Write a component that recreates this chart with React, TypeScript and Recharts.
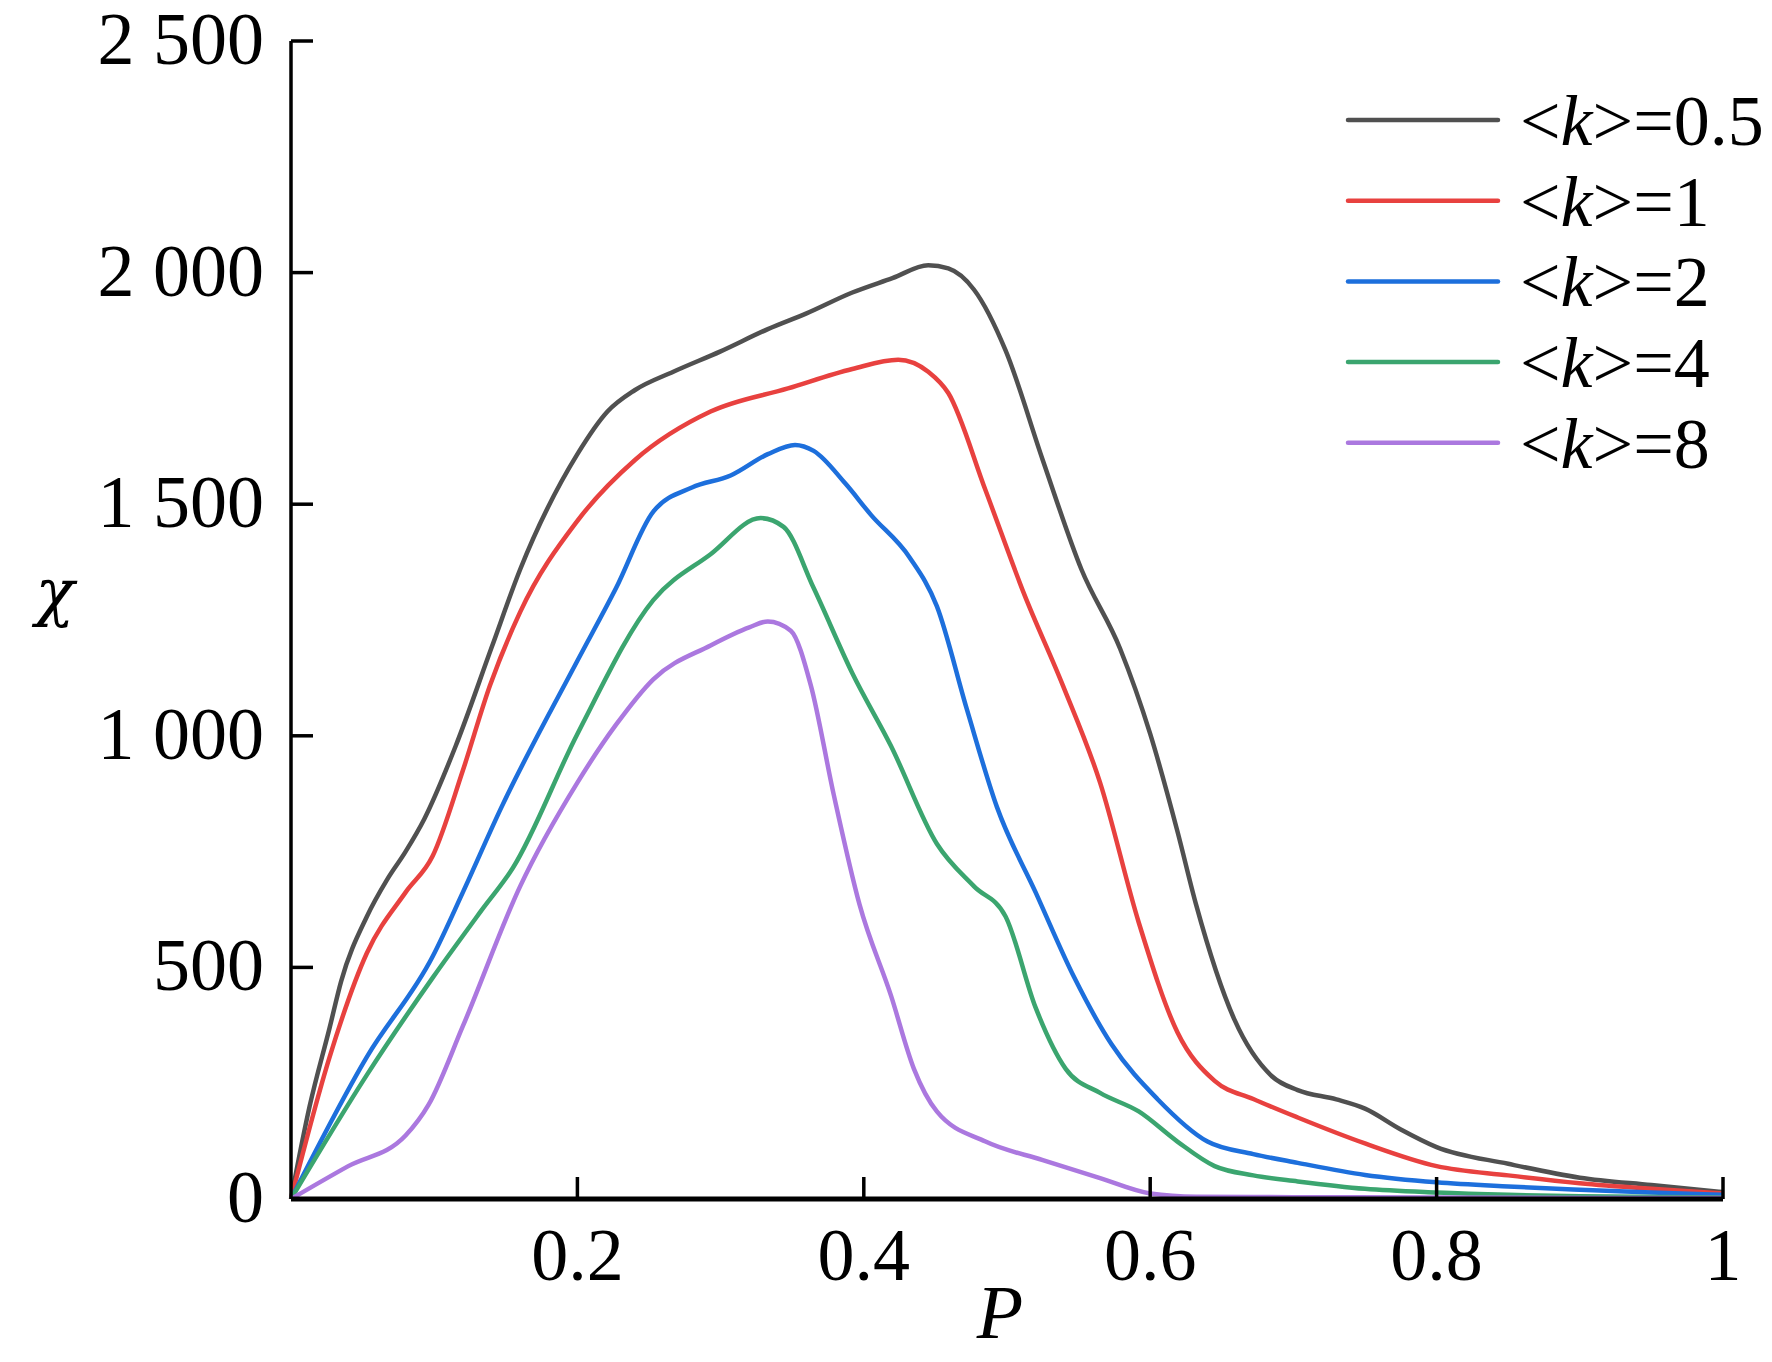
import React from 'react';
import { LineChart, Line, XAxis, YAxis, Legend } from 'recharts';

// ---- data ----
const pK05 = [0, 0.013, 0.027, 0.035, 0.053, 0.067, 0.08, 0.093, 0.115, 0.14, 0.16, 0.2, 0.221, 0.24, 0.267, 0.3, 0.333, 0.36, 0.392, 0.42, 0.445, 0.459, 0.477, 0.499, 0.525, 0.552, 0.579, 0.6, 0.619, 0.632, 0.659, 0.685, 0.703, 0.73, 0.75, 0.775, 0.8, 0.85, 0.9, 0.95, 1];
const vK05 = [0, 200, 370, 470, 610, 689, 750, 820, 978, 1190, 1359, 1608, 1700, 1746, 1786, 1830, 1878, 1912, 1957, 1988, 2016, 2009, 1963, 1832, 1595, 1359, 1188, 1004, 794, 636, 386, 265, 235, 215, 195, 150, 112, 76, 46, 30, 15];

const pK1 = [0, 0.027, 0.053, 0.08, 0.099, 0.12, 0.139, 0.16, 0.2, 0.24, 0.293, 0.347, 0.392, 0.424, 0.445, 0.459, 0.485, 0.512, 0.539, 0.565, 0.592, 0.619, 0.645, 0.672, 0.703, 0.75, 0.8, 0.85, 0.9, 0.95, 1];
const vK1 = [0, 307, 531, 662, 741, 925, 1109, 1267, 1464, 1595, 1700, 1750, 1792, 1812, 1786, 1740, 1530, 1306, 1109, 899, 597, 360, 255, 216, 176, 120, 71, 51, 34, 22, 12];

const pK2 = [0, 0.053, 0.099, 0.12, 0.147, 0.2, 0.227, 0.253, 0.28, 0.307, 0.333, 0.352, 0.365, 0.387, 0.405, 0.432, 0.451, 0.472, 0.493, 0.52, 0.547, 0.573, 0.605, 0.64, 0.672, 0.703, 0.75, 0.8, 0.85, 0.9, 0.95, 1];
const vK2 = [0, 307, 524, 662, 846, 1162, 1319, 1484, 1536, 1562, 1608, 1628, 1615, 1545, 1477, 1385, 1280, 1057, 846, 662, 478, 334, 216, 124, 97, 78, 52, 36, 27, 20, 14, 9];

const pK4 = [0, 0.053, 0.099, 0.133, 0.155, 0.2, 0.253, 0.293, 0.328, 0.344, 0.365, 0.392, 0.419, 0.451, 0.477, 0.499, 0.52, 0.541, 0.565, 0.592, 0.619, 0.645, 0.672, 0.703, 0.75, 0.8, 0.85, 0.9, 1];
const vK4 = [0, 268, 478, 623, 715, 1004, 1293, 1392, 1470, 1451, 1319, 1135, 978, 767, 675, 610, 413, 281, 229, 189, 124, 71, 51, 38, 22, 14, 9, 6, 3];

const pK8 = [0, 0.04, 0.08, 0.096, 0.12, 0.16, 0.2, 0.227, 0.253, 0.293, 0.32, 0.333, 0.349, 0.363, 0.379, 0.397, 0.419, 0.435, 0.451, 0.485, 0.525, 0.565, 0.6, 0.632, 0.7, 0.8, 1];
const vK8 = [0, 71, 137, 203, 373, 675, 899, 1024, 1122, 1195, 1234, 1247, 1227, 1109, 873, 636, 439, 281, 189, 124, 84, 45, 12, 5, 4, 3, 2];

const kLabels = ['0.5', '1', '2', '4', '8'];
const colors = ['#505050', '#e8413f', '#1d6fdc', '#3ba56f', '#ab78df'];

const yTicks = [0, 500, 1000, 1500, 2000, 2500];
const yTickLabels = ['0', '500', '1 000', '1 500', '2 000', '2 500'];
const xTicks = [0.2, 0.4, 0.6, 0.8, 1];
const xTickLabels = ['0.2', '0.4', '0.6', '0.8', '1'];

const FONT = '"Liberation Serif", "Times New Roman", Times, serif';
const GREEK_FONT = '"DejaVu Serif", "Liberation Serif", serif';

const rawSeries = [
  { p: pK05, v: vK05 },
  { p: pK1, v: vK1 },
  { p: pK2, v: vK2 },
  { p: pK4, v: vK4 },
  { p: pK8, v: vK8 },
];

const series = rawSeries.map((s, i) => ({
  name: `<k>=${kLabels[i]}`,
  color: colors[i],
  data: s.p.map((p, j) => ({ p, v: s.v[j] })),
}));

function YTick(props: any) {
  const { x, y, payload } = props;
  const idx = yTicks.indexOf(payload.value);
  return (
    <g>
      <line x1={x} x2={x + 22} y1={y} y2={y} stroke="#000" strokeWidth={3.5} />
      <text x={x - 27} y={y + 23} textAnchor="end" fontFamily={FONT} fontSize={74} fill="#000">
        {yTickLabels[idx]}
      </text>
    </g>
  );
}

function XTick(props: any) {
  const { x, y, payload } = props;
  const idx = xTicks.indexOf(payload.value);
  return (
    <g>
      <line x1={x} x2={x} y1={y} y2={y - 22} stroke="#000" strokeWidth={3.5} />
      <text x={x} y={y + 81} textAnchor="middle" fontFamily={FONT} fontSize={74} fill="#000">
        {xTickLabels[idx]}
      </text>
    </g>
  );
}

function LegendContent(props: any) {
  const payload = props.payload || [];
  return (
    <svg width={432} height={470} style={{ display: 'block', overflow: 'visible' }}>
      {payload.map((entry: any, i: number) => {
        const cy = 60 + i * 80.7;
        const val = String(entry.value).replace('<k>=', '');
        return (
          <g key={i}>
            <line x1={8} x2={158} y1={cy} y2={cy} stroke={entry.color} strokeWidth={4.5} strokeLinecap="round" />
            <text x={180} y={cy + 25} fontFamily={FONT} fontSize={72} fill="#000">
              <tspan>&lt;</tspan>
              <tspan fontStyle="italic">k</tspan>
              <tspan>&gt;={val}</tspan>
            </text>
          </g>
        );
      })}
    </svg>
  );
}

export default function App() {
  return (
    <div style={{ position: 'absolute', left: 0, top: 0, width: 1772, height: 1362, background: '#fff' }}>
      <LineChart width={1772} height={1362} margin={{ top: 41, right: 49, left: 91, bottom: 43 }}>
        <XAxis
          dataKey="p"
          type="number"
          domain={[0, 1]}
          ticks={xTicks}
          interval={0}
          tick={<XTick />}
          tickLine={false}
          tickSize={0}
          tickMargin={0}
          axisLine={{ stroke: '#000', strokeWidth: 5 }}
          height={120}
          label={{
            content: () => (
              <text x={1000} y={1338} textAnchor="middle" fontFamily={FONT} fontSize={76} fontStyle="italic" fill="#000">
                P
              </text>
            ),
          }}
        />
        <YAxis
          type="number"
          domain={[0, 2500]}
          ticks={yTicks}
          interval={0}
          tick={<YTick />}
          tickLine={false}
          tickSize={0}
          tickMargin={0}
          axisLine={{ stroke: '#000', strokeWidth: 3.5 }}
          width={200}
          label={{
            content: () => (
              <text x={55} y={614} textAnchor="middle" fontFamily={GREEK_FONT} fontSize={64} fontStyle="italic" fill="#000">
                χ
              </text>
            ),
          }}
        />
        <Legend
          layout="vertical"
          align="center"
          verticalAlign="middle"
          content={<LegendContent />}
          wrapperStyle={{ position: 'absolute', left: 1340, top: 60, width: 432, height: 470 }}
        />
        {series.map((s) => (
          <Line
            key={s.name}
            data={s.data}
            dataKey="v"
            name={s.name}
            type="monotone"
            stroke={s.color}
            strokeWidth={4.5}
            dot={false}
            activeDot={false}
            isAnimationActive={false}
          />
        ))}
      </LineChart>
    </div>
  );
}
